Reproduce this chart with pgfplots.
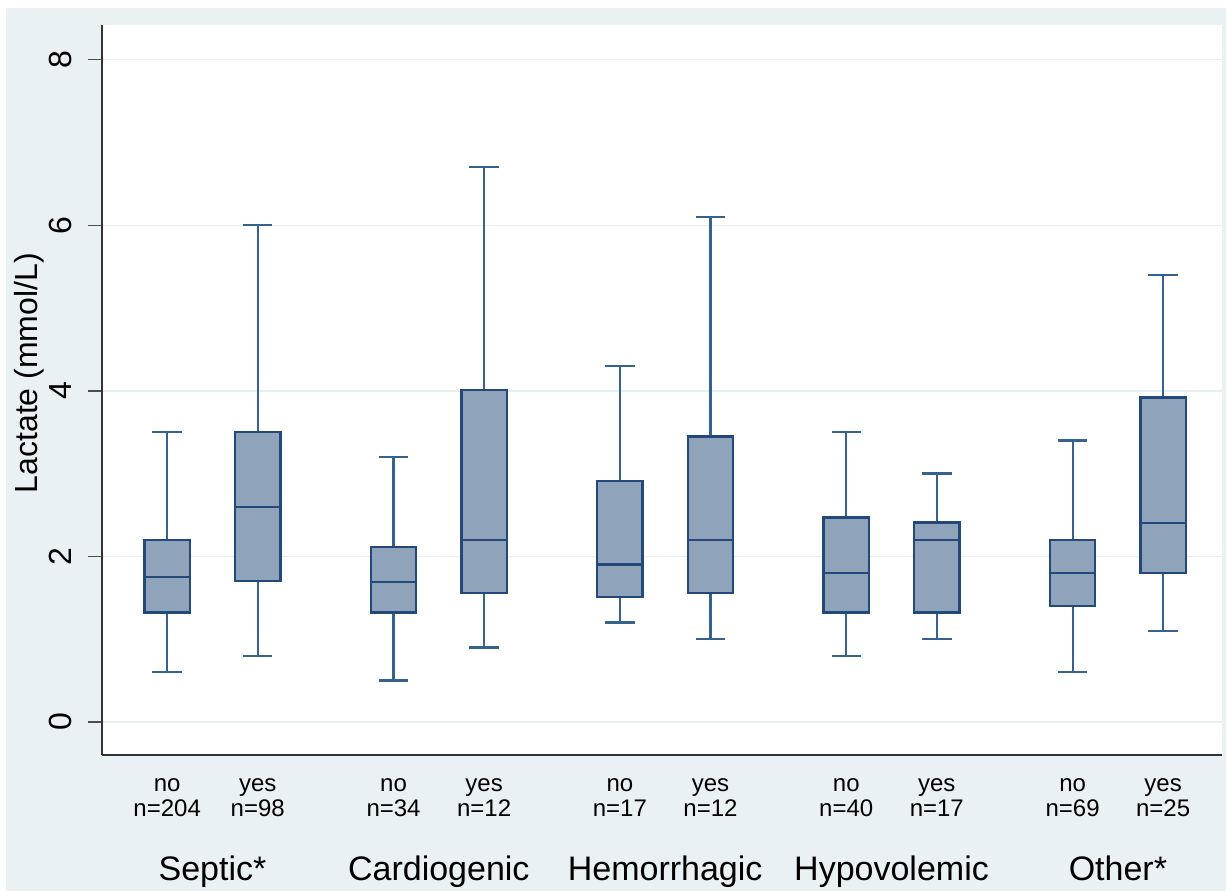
\documentclass[border=0pt]{standalone}
\usepackage{fontspec}
\setmainfont{Liberation Sans}
\usepackage{pgfplots}
\pgfplotsset{compat=1.18}
\usepgfplotslibrary{statistics}
\definecolor{bg}{HTML}{EAF1F4}
\definecolor{boxfill}{HTML}{8FA4BA}
\definecolor{boxline}{HTML}{22497A}
\definecolor{whiskc}{HTML}{36628F}
\definecolor{gridc}{HTML}{E6EFF1}
\pgfplotsset{
  mybox/.style={
    boxplot/draw direction=y,
    boxplot/box extend=2,
    boxplot/whisker extend=1.3,
    boxplot/every box/.style={draw=boxline, fill=boxfill, line width=1.2pt},
    boxplot/every median/.style={draw=boxline, line width=1.2pt},
    boxplot/every whisker/.style={draw=whiskc, line width=1.1pt},
    draw=boxline, solid, mark=none
  }
}
\tikzset{grouplab/.style={anchor=base, font=\fontsize{17}{17}\selectfont, yshift=-62.5pt}}
\begin{document}
\begin{tikzpicture}
\useasboundingbox (0pt,0pt) rectangle (613pt,445.5pt);
\fill[white] (0pt,0pt) rectangle (613pt,445.5pt);
\fill[bg] (3pt,0pt) rectangle (613pt,441.5pt);
\begin{axis}[
  at={(51pt,68pt)}, anchor=south west,
  scale only axis, width=560pt, height=365pt,
  xmin=-2.88, xmax=46.6, ymin=-0.4, ymax=8.42,
  axis x line*=bottom, axis y line*=left,
  axis line style={-, black!80, line width=0.8pt},
  axis background/.style={fill=white},
  ytick={0,2,4,6,8}, ymajorgrids, grid style={gridc, line width=0.7pt},
  tick align=outside, major tick length=7pt,
  tick style={black!70, line width=0.7pt},
  /pgf/number format/assume math mode=true,
  yticklabel style={rotate=90, anchor=base, yshift=8pt, font=\fontsize{16}{16}\selectfont},
  xtick={0,4,10,14,20,24,30,34,40,44},
  xticklabels={{no\\n=204},{yes\\n=98},{no\\n=34},{yes\\n=12},{no\\n=17},{yes\\n=12},{no\\n=40},{yes\\n=17},{no\\n=69},{yes\\n=25}},
  xtick style={draw=none},
  xticklabel style={align=center, font=\fontsize{12}{12.5}\selectfont, yshift=-1.5pt},
  ylabel={Lactate (mmol/L)},
  ylabel style={at={(axis description cs:-0.058,0.523)}, anchor=base, font=\fontsize{16}{16}\selectfont},
  clip=false,
]
\addplot[mybox, boxplot prepared={draw position=0, lower whisker=0.6, lower quartile=1.32, median=1.75, upper quartile=2.2, upper whisker=3.5}] coordinates {};
\addplot[mybox, boxplot prepared={draw position=4, lower whisker=0.8, lower quartile=1.7, median=2.6, upper quartile=3.5, upper whisker=6.0}] coordinates {};
\addplot[mybox, boxplot prepared={draw position=10, lower whisker=0.5, lower quartile=1.32, median=1.69, upper quartile=2.11, upper whisker=3.2}] coordinates {};
\addplot[mybox, boxplot prepared={draw position=14, lower whisker=0.9, lower quartile=1.56, median=2.2, upper quartile=4.01, upper whisker=6.7}] coordinates {};
\addplot[mybox, boxplot prepared={draw position=20, lower whisker=1.2, lower quartile=1.51, median=1.9, upper quartile=2.91, upper whisker=4.3}] coordinates {};
\addplot[mybox, boxplot prepared={draw position=24, lower whisker=1.0, lower quartile=1.56, median=2.2, upper quartile=3.45, upper whisker=6.1}] coordinates {};
\addplot[mybox, boxplot prepared={draw position=30, lower whisker=0.8, lower quartile=1.32, median=1.8, upper quartile=2.47, upper whisker=3.5}] coordinates {};
\addplot[mybox, boxplot prepared={draw position=34, lower whisker=1.0, lower quartile=1.32, median=2.2, upper quartile=2.41, upper whisker=3.0}] coordinates {};
\addplot[mybox, boxplot prepared={draw position=40, lower whisker=0.6, lower quartile=1.4, median=1.8, upper quartile=2.2, upper whisker=3.4}] coordinates {};
\addplot[mybox, boxplot prepared={draw position=44, lower whisker=1.1, lower quartile=1.8, median=2.4, upper quartile=3.92, upper whisker=5.4}] coordinates {};
\node[grouplab] at (axis cs:2,-0.4) {Septic*};
\node[grouplab] at (axis cs:12,-0.4) {Cardiogenic};
\node[grouplab] at (axis cs:22,-0.4) {Hemorrhagic};
\node[grouplab] at (axis cs:32,-0.4) {Hypovolemic};
\node[grouplab] at (axis cs:42,-0.4) {Other*};
\end{axis}
\end{tikzpicture}
\end{document}
